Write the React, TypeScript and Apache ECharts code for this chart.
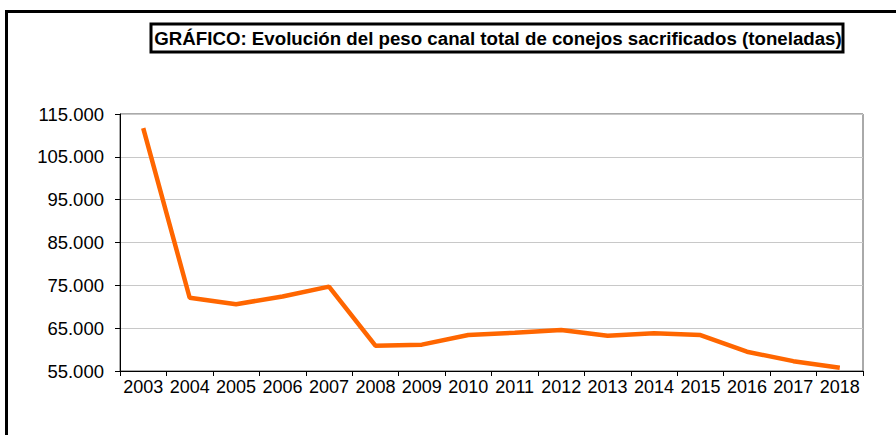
import React, { useEffect, useRef } from "react";
import * as echarts from "echarts";

const years = ["2003","2004","2005","2006","2007","2008","2009","2010","2011","2012","2013","2014","2015","2016","2017","2018"];
const pesoCanal = [111700, 72100, 70600, 72400, 74700, 60900, 61150, 63400, 63950, 64550, 63250, 63800, 63400, 59500, 57300, 55750];
const yMin = 55000;
const yMax = 115000;
const yStep = 10000;
const titleText = "GRÁFICO: Evolución del peso canal total de conejos sacrificados (toneladas)";

const fmt = (v: number) => String(v).replace(/\B(?=(\d{3})+(?!\d))/g, ".");

export default function App() {
  const ref = useRef<HTMLDivElement>(null);
  useEffect(() => {
    if (!ref.current) return;
    const chart = echarts.init(ref.current, undefined, { renderer: "svg" });
    const font = "'Liberation Sans', Arial, sans-serif";
    chart.setOption({
      animation: false,
      backgroundColor: "#ffffff",
      graphic: [
        {
          type: "rect",
          shape: { x: 6.5, y: 11.5, width: 900, height: 440 },
          style: { fill: "none", stroke: "#000", lineWidth: 3 },
          silent: true,
        },
        {
          type: "rect",
          shape: { x: 151, y: 24, width: 692, height: 28 },
          style: { fill: "#fff", stroke: "#000", lineWidth: 3 },
          silent: true,
        },
        {
          type: "text",
          x: 498,
          y: 38.5,
          style: {
            text: titleText,
            fontFamily: font,
            fontWeight: "bold",
            fontSize: 18.7,
            fill: "#000",
            align: "center",
            verticalAlign: "middle",
          },
        },
      ],
      grid: {
        left: 120,
        right: 33,
        top: 114,
        bottom: 64,
        show: true,
        borderColor: "#555",
        borderWidth: 1,
        backgroundColor: "transparent",
      },
      xAxis: {
        type: "category",
        data: years,
        boundaryGap: true,
        axisLine: { lineStyle: { color: "#000", width: 1 } },
        axisTick: { show: true, length: 5, lineStyle: { color: "#000" } },
        axisLabel: { color: "#000", fontSize: 18, fontFamily: font, margin: 7, interval: 0 },
      },
      yAxis: {
        type: "value",
        min: yMin,
        max: yMax,
        interval: yStep,
        axisLine: { show: true, lineStyle: { color: "#000", width: 1 } },
        axisTick: { show: true, length: 5, lineStyle: { color: "#000" } },
        axisLabel: { color: "#000", fontSize: 18.5, fontFamily: font, margin: 16, formatter: (v: number) => fmt(v) },
        splitLine: { show: true, lineStyle: { color: "#c8c8c8", width: 1 } },
      },
      series: [
        {
          type: "line",
          data: pesoCanal,
          symbol: "none",
          lineStyle: { color: "#ff6600", width: 4.5 },
        },
      ],
    });
    return () => chart.dispose();
  }, []);
  return <div ref={ref} style={{ position: "fixed", left: 0, top: 0, width: 896, height: 435 }} />;
}
